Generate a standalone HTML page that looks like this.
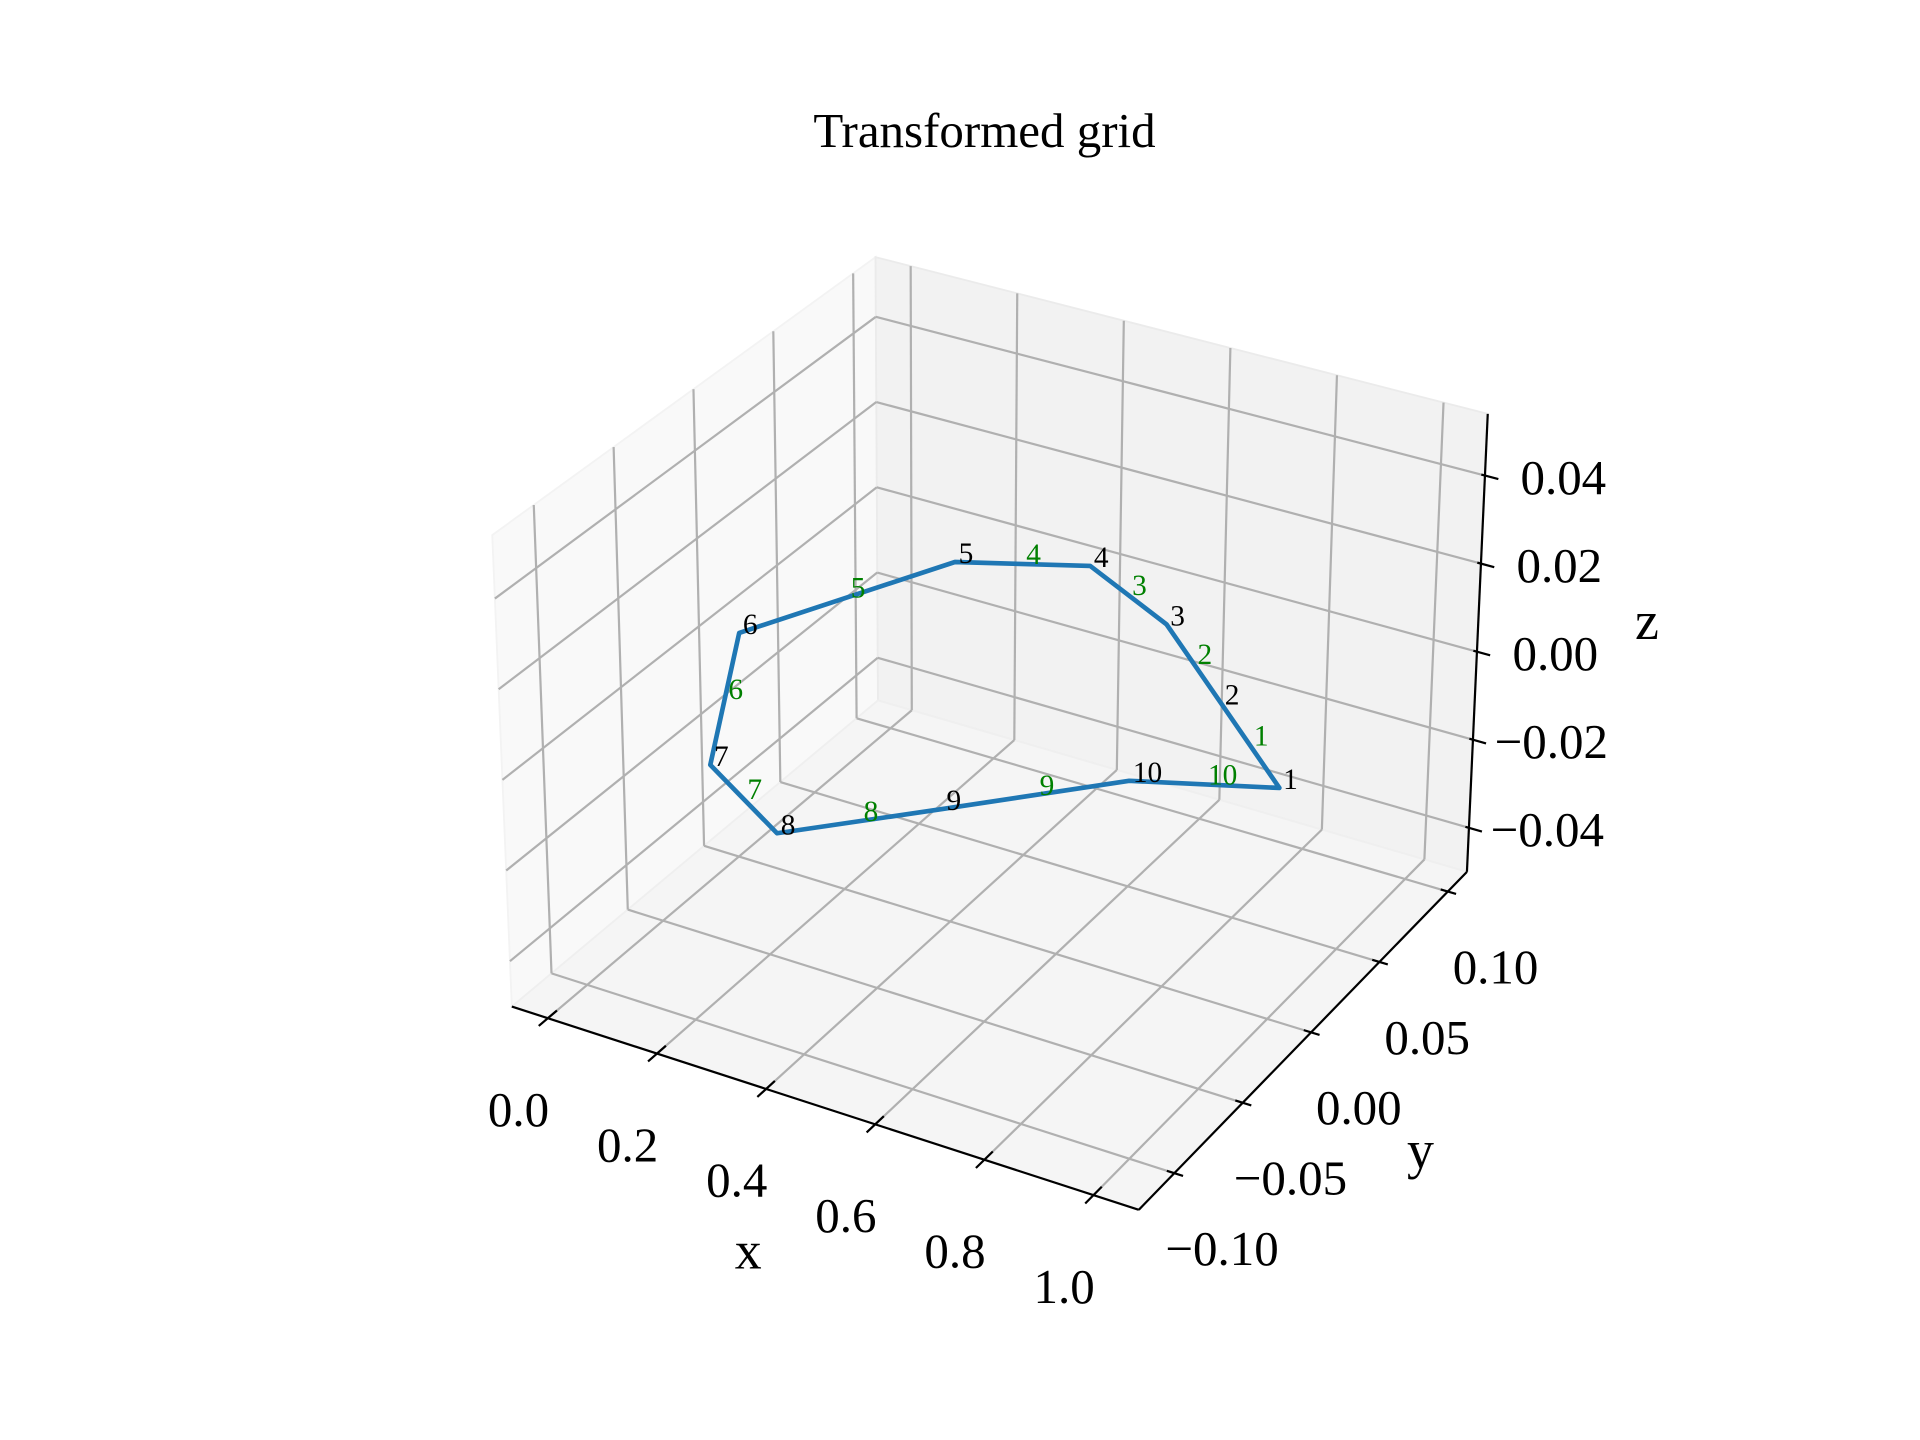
<!DOCTYPE html>
<html>
<head>
<meta charset="utf-8">
<style>
  html,body{margin:0;padding:0;background:#fff;}
  svg{display:block;}
  text{font-family:"Liberation Serif","DejaVu Serif",serif;}
</style>
</head>
<body>
<svg id="chart" width="1920" height="1440" viewBox="0 0 1568 1176" preserveAspectRatio="none" xmlns="http://www.w3.org/2000/svg">
  <rect x="0" y="0" width="1568" height="1176" fill="#ffffff"/>
  <g id="panes"></g>
  <g id="grid"></g>
  <g id="axes"></g>
  <g id="series"></g>
  <g id="labels"></g>
  <text x="804" y="120" font-size="40" text-anchor="middle" fill="#000">Transformed grid</text>
  <text x="611" y="1036" font-size="44" text-anchor="middle" fill="#000">x</text>
  <text x="1160" y="954" font-size="44" text-anchor="middle" fill="#000">y</text>
  <text x="1345" y="522" font-size="44" text-anchor="middle" fill="#000">z</text>
</svg>
<script>
// ---- data ----
const pointX = [1.0, 0.788, 0.584, 0.377, 0.177, 0.0, 0.181, 0.378, 0.563, 0.777];
const pointY = [0.004, 0.043, 0.080, 0.102, 0.082, 0.003, -0.080, -0.108, -0.065, -0.017];
const pointZ = [0, 0, 0, 0, 0, 0, 0, 0, 0, 0];
const pointLabels = ["1","2","3","4","5","6","7","8","9","10"];
const edgeLabels = ["1","2","3","4","5","6","7","8","9","10"];
const xTicks = [0, 0.2, 0.4, 0.6, 0.8, 1.0];
const xTickLabels = ["0.0","0.2","0.4","0.6","0.8","1.0"];
const yTicks = [-0.10, -0.05, 0.00, 0.05, 0.10];
const yTickLabels = ["\u22120.10","\u22120.05","0.00","0.05","0.10"];
const zTicks = [-0.04, -0.02, 0.00, 0.02, 0.04];
const zTickLabels = ["\u22120.04","\u22120.02","0.00","0.02","0.04"];
const xLim = [-0.066, 1.083];
const yLim = [-0.126, 0.114];
const zLim = [-0.05, 0.054];

// ---- projection (box corners in view coords) ----
const C = {
  '000':[418,822], '100':[930,988], '110':[1198,712], '010':[717,572],
  '001':[402,437], '101':[938,593], '111':[1215,338], '011':[715,210]
};
function proj(x,y,z){
  const u=(x-xLim[0])/(xLim[1]-xLim[0]);
  const v=(y-yLim[0])/(yLim[1]-yLim[0]);
  const w=(z-zLim[0])/(zLim[1]-zLim[0]);
  const out=[0,0];
  for(let i=0;i<2;i++){
    const c00=C['000'][i]*(1-u)+C['100'][i]*u;
    const c10=C['010'][i]*(1-u)+C['110'][i]*u;
    const c01=C['001'][i]*(1-u)+C['101'][i]*u;
    const c11=C['011'][i]*(1-u)+C['111'][i]*u;
    const b0=c00*(1-v)+c10*v;
    const b1=c01*(1-v)+c11*v;
    out[i]=b0*(1-w)+b1*w;
  }
  return out;
}
const NS='http://www.w3.org/2000/svg';
function mk(tag, parent){
  const e=document.createElementNS(NS,tag);
  parent.appendChild(e);
  return e;
}
function seg(parent,p,q,stroke,width){
  const l=mk('line',parent);
  l.setAttribute('x1',p[0]);l.setAttribute('y1',p[1]);
  l.setAttribute('x2',q[0]);l.setAttribute('y2',q[1]);
  l.setAttribute('stroke',stroke);l.setAttribute('stroke-width',width);
  l.setAttribute('stroke-linecap','butt');
  return l;
}
const [x0,x1]=xLim,[y0,y1]=yLim,[z0,z1]=zLim;
const panes=document.getElementById('panes');
const grid=document.getElementById('grid');
const axes=document.getElementById('axes');
const series=document.getElementById('series');
const labels=document.getElementById('labels');

function poly(pts,fill,stroke){
  const p=mk('polygon',panes);
  p.setAttribute('points',pts.map(q=>q.join(',')).join(' '));
  p.setAttribute('fill',fill);p.setAttribute('stroke',stroke);p.setAttribute('stroke-width','1.5');
  return p;
}
const leftPane=poly([proj(x0,y0,z0),proj(x0,y1,z0),proj(x0,y1,z1),proj(x0,y0,z1)],'#f9f9f9','#f3f3f3');


const backPane=poly([proj(x0,y1,z0),proj(x1,y1,z0),proj(x1,y1,z1),proj(x0,y1,z1)],'#f2f2f2','#ebebeb');


const floorPane=poly([proj(x0,y0,z0),proj(x1,y0,z0),proj(x1,y1,z0),proj(x0,y1,z0)],'#f5f5f5','#efefef');



const GC='#b0b0b0', GW=1.8;
xTicks.forEach(t=>{
  const a=seg(grid,proj(t,y0,z0),proj(t,y1,z0),GC,GW);
  
  
  const b=seg(grid,proj(t,y1,z0),proj(t,y1,z1),GC,GW);
  
  
});
yTicks.forEach(t=>{
  const a=seg(grid,proj(x0,t,z0),proj(x1,t,z0),GC,GW);
  
  
  const b=seg(grid,proj(x0,t,z0),proj(x0,t,z1),GC,GW);
  
  
});
zTicks.forEach(t=>{
  const a=seg(grid,proj(x0,y0,t),proj(x0,y1,t),GC,GW);
  
  
  const b=seg(grid,proj(x0,y1,t),proj(x1,y1,t),GC,GW);
  
  
});

// axis lines
const xr=x1-x0, yr=y1-y0;
const xl=seg(axes,proj(x0,y0,z0),proj(x1,y0,z0),'#000',1.8);


const yl=seg(axes,proj(x1,y0,z0),proj(x1,y1,z0),'#000',1.8);


const zl=seg(axes,proj(x1,y1,z0),proj(x1,y1,z1),'#000',1.8);



function tlabel(txt,p,dx,dy,name){
  const t=mk('text',axes);
  t.setAttribute('x',p[0]+dx);t.setAttribute('y',p[1]+dy);
  t.setAttribute('font-size','40');t.setAttribute('text-anchor','middle');
  t.setAttribute('fill','#000');
  t.textContent=txt;
  
  
}
xTicks.forEach((t,i)=>{
  const k=seg(axes,proj(t,y0-0.025*yr,z0),proj(t,y0+0.025*yr,z0),'#000',1.8);
  
  
  tlabel(xTickLabels[i],proj(t,y0,z0),-24,88,'x-tick-label');
});
yTicks.forEach((t,i)=>{
  const k=seg(axes,proj(x1-0.012*xr,t,z0),proj(x1+0.014*xr,t,z0),'#000',1.8);
  
  
  tlabel(yTickLabels[i],proj(x1,t,z0),39,75,'y-tick-label');
});
zTicks.forEach((t,i)=>{
  const k=seg(axes,proj(x1-0.006*xr,y1,t),proj(x1+0.022*xr,y1,t),'#000',1.8);
  
  
  tlabel(zTickLabels[i],proj(x1,y1,t),64,15,'z-tick-label');
});

// series
const pts=pointX.map((x,i)=>proj(x,pointY[i],pointZ[i]));
const line=mk('polygon',series);
line.setAttribute('points',pts.map(p=>p.join(',')).join(' '));
line.setAttribute('fill','none');line.setAttribute('stroke','#1f77b4');
line.setAttribute('stroke-width','3.8');line.setAttribute('stroke-linejoin','round');



pts.forEach((p,i)=>{
  const t=mk('text',labels);
  t.setAttribute('x',p[0]+3);t.setAttribute('y',p[1]+1);
  t.setAttribute('font-size','24');t.setAttribute('fill','#000');
  t.textContent=pointLabels[i];
  
  
  const q=pts[(i+1)%pts.length];
  const m=[(p[0]+q[0])/2,(p[1]+q[1])/2];
  const g=mk('text',labels);
  g.setAttribute('x',m[0]+3);g.setAttribute('y',m[1]);
  g.setAttribute('font-size','24');g.setAttribute('fill','#008000');
  g.textContent=edgeLabels[i];
  
  
});
</script>
</body>
</html>
